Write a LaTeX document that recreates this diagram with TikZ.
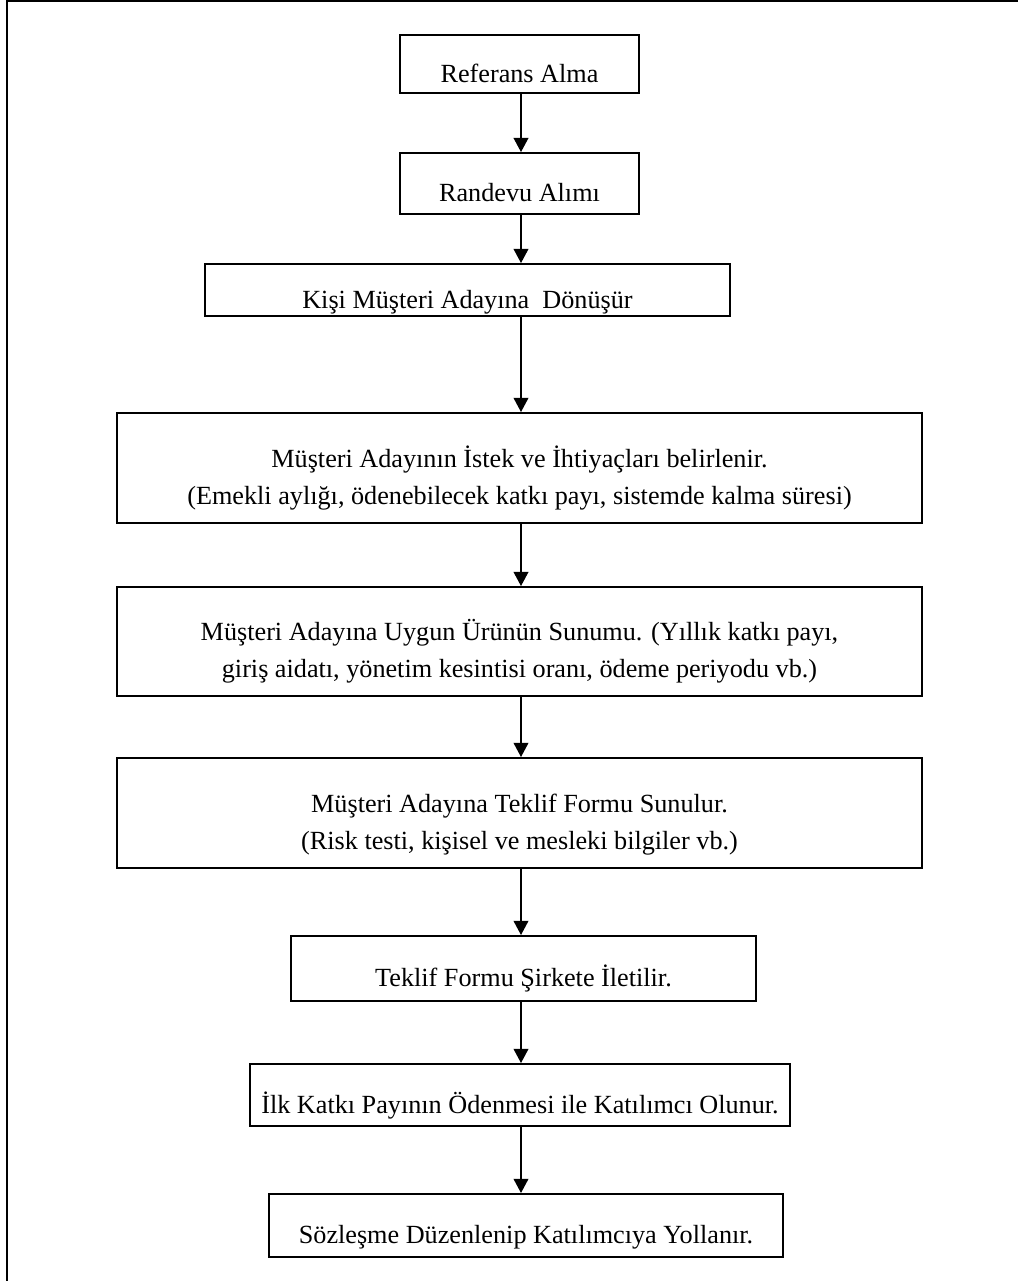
\documentclass[tikz,border=0pt]{standalone}
\usepackage{fontspec}
\setmainfont{Liberation Serif}
\usetikzlibrary{arrows.meta,positioning}

\tikzset{
  stepbox/.style={draw, line width=0.9pt, inner sep=0pt, text height=19pt, text depth=2.5pt},
  twobox/.style={stepbox, align=center, text height=40pt, text depth=7pt},
  flow/.style={line width=0.6pt, -{Triangle[length=6.5pt,width=6.8pt]}}
}

\begin{document}
\begin{tikzpicture}[x=0.458pt, y=-0.458pt, font=\fontsize{12}{16.9}\selectfont]
\useasboundingbox (0,0) rectangle (1018,1281);
% page frame
\draw[line width=1.1pt] (7,1281) -- (7,1) -- (1018,1);

% steps
\node[stepbox, minimum width=109.5pt, minimum height=26.6pt] (ref) at (519.5,64) {Referans Alma};
\node[stepbox, minimum width=109.5pt, minimum height=27.9pt] (rand) at (519.5,183.5) {Randevu Alımı};
\node[stepbox, minimum width=240.4pt, minimum height=23.8pt] (kisi) at (467.5,290) {Kişi Müşteri Adayına\ \ Dönüşür};
\node[twobox, minimum width=368.7pt, minimum height=50.4pt] (istek) at (519.5,468)
  {Müşteri Adayının İstek ve İhtiyaçları belirlenir.\\(Emekli aylığı, ödenebilecek katkı payı, sistemde kalma süresi)};
\node[twobox, minimum width=368.7pt, minimum height=49.9pt] (urun) at (519.5,641.5)
  {Müşteri Adayına Uygun Ürünün Sunumu. (Yıllık katkı payı,\\giriş aidatı, yönetim kesintisi oranı, ödeme periyodu vb.)};
\node[twobox, minimum width=368.7pt, minimum height=50.4pt] (teklif) at (519.5,813)
  {Müşteri Adayına Teklif Formu Sunulur.\\(Risk testi, kişisel ve mesleki bilgiler vb.)};
\node[stepbox, minimum width=213pt, minimum height=29.8pt] (sirket) at (523.5,968.5) {Teklif Formu Şirkete İletilir.};
\node[stepbox, minimum width=247.3pt, minimum height=28.4pt] (ilk) at (520,1095) {İlk Katkı Payının Ödenmesi ile Katılımcı Olunur.};
\node[stepbox, minimum width=235.4pt, minimum height=28.9pt] (soz) at (526,1225.5) {Sözleşme Düzenlenip Katılımcıya Yollanır.};

% arrows
\coordinate (spine) at (521,0);
\draw[flow] (ref.south -| spine) -- (rand.north -| spine);
\draw[flow] (rand.south -| spine) -- (kisi.north -| spine);
\draw[flow] (kisi.south -| spine) -- (istek.north -| spine);
\draw[flow] (istek.south -| spine) -- (urun.north -| spine);
\draw[flow] (urun.south -| spine) -- (teklif.north -| spine);
\draw[flow] (teklif.south -| spine) -- (sirket.north -| spine);
\draw[flow] (sirket.south -| spine) -- (ilk.north -| spine);
\draw[flow] (ilk.south -| spine) -- (soz.north -| spine);
\end{tikzpicture}
\end{document}
